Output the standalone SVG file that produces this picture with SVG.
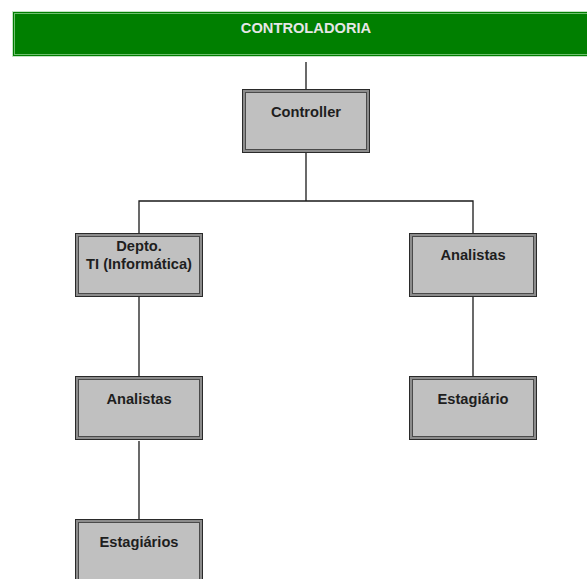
<svg xmlns="http://www.w3.org/2000/svg" width="587" height="579" viewBox="0 0 587 579">
<style>
.frame{fill:#8c8c8c;stroke:#2a2a2a;stroke-width:1}
.inner{fill:#c0c0c0;stroke:#4a4a4a;stroke-width:1}
.lbl{font-family:"Liberation Sans",Arial,sans-serif;font-weight:bold;font-size:14.67px;fill:#1e1e1e;text-anchor:middle}
.conn{stroke:#1a1a1a;stroke-width:1.3;fill:none}
</style>
<rect width="587" height="579" fill="#ffffff"/>
<g id="header">
<rect x="12.5" y="11.5" width="600" height="45" fill="#007f00" stroke="#c4e4c4" stroke-width="1"/>
<rect x="14.5" y="13.5" width="596" height="41" fill="none" stroke="#6fbf6f" stroke-width="1"/>
<text x="306" y="32.5" style="font-family:'Liberation Sans',Arial,sans-serif;font-weight:bold;font-size:14.67px;fill:#e6e6e6;text-anchor:middle">CONTROLADORIA</text>
</g>
<g id="connectors">
<line class="conn" x1="306" y1="62" x2="306" y2="89"/>
<line class="conn" x1="306" y1="153" x2="306" y2="201"/>
<polyline class="conn" points="139,233 139,201 473,201 473,233"/>
<line class="conn" x1="139" y1="297" x2="139" y2="376"/>
<line class="conn" x1="139" y1="441" x2="139" y2="519"/>
<line class="conn" x1="473" y1="297" x2="473" y2="376"/>
</g>
<g id="controller">
<rect class="frame" x="242.5" y="89.5" width="127" height="63"/>
<rect class="inner" x="245.5" y="92.5" width="121" height="57"/>
<text class="lbl" x="306" y="117">Controller</text>
</g>
<g id="depto-ti">
<rect class="frame" x="75.5" y="233.5" width="127" height="63"/>
<rect class="inner" x="78.5" y="236.5" width="121" height="57"/>
<text class="lbl" x="139" y="251">Depto.</text>
<text class="lbl" x="139" y="269">TI (Informática)</text>
</g>
<g id="analistas-direita">
<rect class="frame" x="409.5" y="233.5" width="127" height="63"/>
<rect class="inner" x="412.5" y="236.5" width="121" height="57"/>
<text class="lbl" x="473" y="260">Analistas</text>
</g>
<g id="analistas-esquerda">
<rect class="frame" x="75.5" y="376.5" width="127" height="63"/>
<rect class="inner" x="78.5" y="379.5" width="121" height="57"/>
<text class="lbl" x="139" y="403.5">Analistas</text>
</g>
<g id="estagiario">
<rect class="frame" x="409.5" y="376.5" width="127" height="63"/>
<rect class="inner" x="412.5" y="379.5" width="121" height="57"/>
<text class="lbl" x="473" y="403.5">Estagiário</text>
</g>
<g id="estagiarios">
<rect class="frame" x="75.5" y="519.5" width="127" height="63"/>
<rect class="inner" x="78.5" y="522.5" width="121" height="57"/>
<text class="lbl" x="139" y="547">Estagiários</text>
</g>
</svg>
